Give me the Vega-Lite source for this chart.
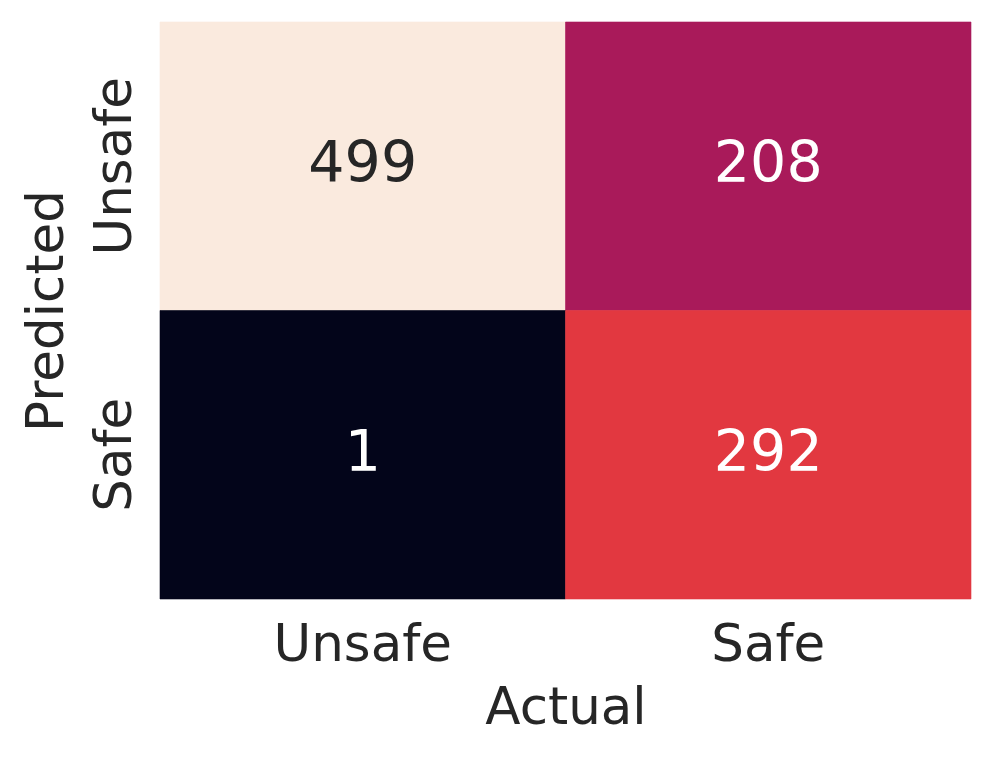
{
  "$schema": "https://vega.github.io/schema/vega-lite/v6.json",
  "width": 811,
  "height": 577,
  "autosize": "none",
  "padding": {"left": 160, "top": 22, "right": 24, "bottom": 161},
  "background": "white",
  "config": {"view": {"stroke": null}, "font": "DejaVu Sans"},
  "data": {"values": [
    {"actual": "Unsafe", "predicted": "Unsafe", "count": 499},
    {"actual": "Safe", "predicted": "Unsafe", "count": 208},
    {"actual": "Unsafe", "predicted": "Safe", "count": 1},
    {"actual": "Safe", "predicted": "Safe", "count": 292}
  ]},
  "encoding": {
    "x": {"field": "actual", "type": "nominal", "sort": ["Unsafe", "Safe"], "scale": {"paddingInner": 0, "paddingOuter": 0},
      "axis": {"title": "Actual", "labelAngle": 0, "ticks": false, "domain": false, "labelFontSize": 51.5, "titleFontSize": 51.5, "titleFontWeight": "normal", "labelColor": "#262626", "titleColor": "#262626", "labelPadding": 20, "titlePadding": 12}},
    "y": {"field": "predicted", "type": "nominal", "sort": ["Unsafe", "Safe"], "scale": {"paddingInner": 0, "paddingOuter": 0},
      "axis": {"title": "Predicted", "labelAngle": -90, "labelAlign": "center", "labelBaseline": "alphabetic", "ticks": false, "domain": false, "labelFontSize": 51.5, "titleFontSize": 51.5, "titleFontWeight": "normal", "labelColor": "#262626", "titleColor": "#262626", "labelPadding": 30, "titlePadding": 16}}
  },
  "layer": [
    {"mark": {"type": "rect", "strokeWidth": 0.6},
     "encoding": {
       "color": {"field": "count", "type": "ordinal", "legend": null,
         "scale": {"domain": [1, 208, 292, 499], "range": ["#03051A", "#A91A5A", "#E23840", "#FAEADE"]}},
       "stroke": {"field": "count", "type": "ordinal", "legend": null,
         "scale": {"domain": [1, 208, 292, 499], "range": ["#03051A", "#A91A5A", "#E23840", "#FAEADE"]}}}},
    {"mark": {"type": "text", "fontSize": 57, "baseline": "middle", "dy": -1},
     "encoding": {"text": {"field": "count", "type": "quantitative"},
       "color": {"condition": {"test": "datum.count > 400", "value": "#262626"}, "value": "white"}}}
  ]
}
